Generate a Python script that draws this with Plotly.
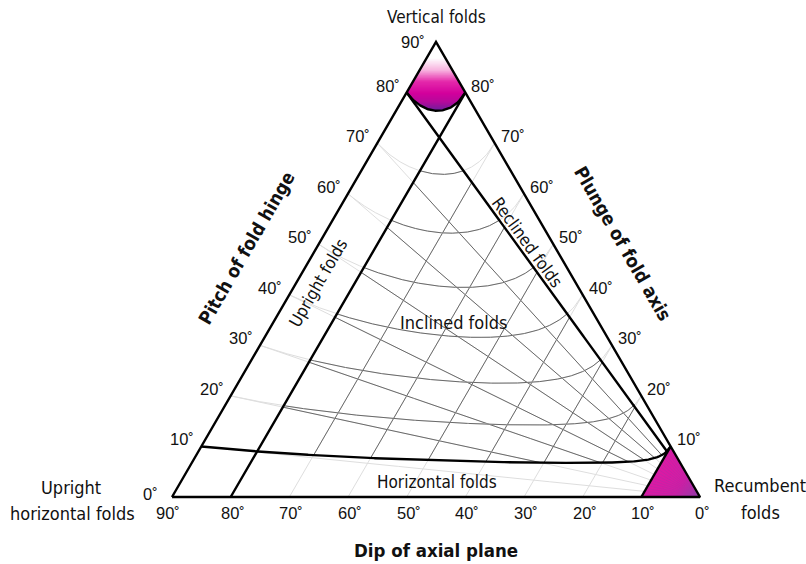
import numpy as np
import plotly.graph_objects as go

# ---- data -------------------------------------------------------------
dip_ticks = [90, 80, 70, 60, 50, 40, 30, 20, 10, 0]          # bottom edge
pitch_ticks = [0, 10, 20, 30, 40, 50, 60, 70, 80, 90]        # left edge
plunge_ticks = [10, 20, 30, 40, 50, 60, 70, 80]               # right edge
grid_dips = [20, 30, 40, 50, 60, 70]
grid_pitches = [10, 20, 30, 40, 50, 60, 70]
grid_plunges = [20, 30, 40, 50, 60, 70]
upright_dip = 80       # boundary: upright folds
reclined_pitch = 80    # boundary: reclined folds
horizontal_plunge = 10 # boundary: horizontal folds
vertical_plunge = 80   # boundary: vertical folds
recumbent_dip = 10     # boundary: recumbent folds
deg = "˚"

# ---- triangle geometry (page pixels) -----------------------------------
BL = np.array([172.0, 497.0])
BR = np.array([700.0, 497.0])
AP = np.array([436.0, 42.0])


def pos(D, R):
    """Position of a fold with axial-plane dip D and hinge pitch R."""
    D = np.asarray(D, float)[..., None]
    R = np.asarray(R, float)[..., None]
    LR = BL + (R / 90.0) * (AP - BL)
    p = BR + (D / 90.0) * (LR - BR)
    return p[..., 0], p[..., 1]


def plunge(D, R):
    return np.degrees(np.arcsin(np.sin(np.radians(D)) * np.sin(np.radians(R))))


def pitch_for(P, D):
    v = np.sin(np.radians(P)) / np.sin(np.radians(D))
    return np.degrees(np.arcsin(np.clip(v, -1, 1)))


def inclined(D, R):
    P = plunge(D, R)
    return (D < upright_dip) & (D > recumbent_dip) & (R < reclined_pitch) & \
           (P > horizontal_plunge) & (P < vertical_plunge)


LIGHT = "#dedede"
DARK = "#6a6a6a"
fig = go.Figure()


def add_line(x, y, color, width):
    fig.add_trace(go.Scatter(x=x, y=y, mode="lines", hoverinfo="skip",
                             line=dict(color=color, width=width),
                             showlegend=False))


def add_grid(D, R):
    x, y = pos(D, R)
    add_line(x, y, LIGHT, 1)
    m = inclined(D, R)
    # widen the mask by one sample so dark segments meet the boundaries
    m2 = m | np.roll(m, 1) | np.roll(m, -1)
    add_line(np.where(m2, x, np.nan), np.where(m2, y, np.nan), DARK, 1)


N = 600
for d in grid_dips:
    R = np.linspace(0, 90, N)
    add_grid(np.full(N, d), R)
for r in grid_pitches:
    D = np.linspace(0, 90, N)
    add_grid(D, np.full(N, r))
for p in grid_plunges:
    D = np.linspace(p, 90, N)
    add_grid(D, pitch_for(p, D))


# ---- polygon helpers for gradient fills --------------------------------
def clip_half(poly, f):
    """Keep the part of a polygon where f(point) >= 0."""
    out = []
    n = len(poly)
    for i in range(n):
        a, b = poly[i], poly[(i + 1) % n]
        fa, fb = f(a), f(b)
        if fa >= 0:
            out.append(a)
        if (fa >= 0) != (fb >= 0):
            t = fa / (fa - fb)
            out.append(a + t * (b - a))
    return out


def clip_strip(poly, y0, y1):
    poly = clip_half(poly, lambda p: p[1] - y0)
    if not poly:
        return poly
    return clip_half(poly, lambda p: y1 - p[1])


def mix(stops, t):
    ts = [s[0] for s in stops]
    cols = np.array([[int(s[1][i:i + 2], 16) for i in (1, 3, 5)] for s in stops], float)
    c = [np.interp(t, ts, cols[:, k]) for k in range(3)]
    return "rgb(%d,%d,%d)" % tuple(int(round(v)) for v in c)


# vertical folds region (plunge > 80)
arcD = np.linspace(vertical_plunge, 90, 80)
ax_, ay_ = pos(arcD, pitch_for(vertical_plunge, arcD))
rx, ry = pos(np.linspace(90, vertical_plunge, 20), np.full(20, 90.0))
lx, ly = pos(np.full(20, 90.0), np.linspace(vertical_plunge, 90, 20))
top_poly = [np.array(p) for p in zip(np.r_[rx, ax_, lx], np.r_[ry, ay_, ly])]
ytop, ybot = AP[1], ay_.max()
top_stops = [(0.0, "#ffffff"), (0.24, "#ffffff"), (0.42, "#f7b0de"),
             (0.58, "#e42aab"), (0.75, "#d3009c"), (0.88, "#b40a9b"), (1.0, "#6a1f9c")]
nb = 60
edges = np.linspace(ytop, ybot + 1, nb + 1)
for i in range(nb):
    pg = clip_strip(top_poly, edges[i] - 0.4, edges[i + 1] + 0.4)
    if len(pg) < 3:
        continue
    px = [p[0] for p in pg] + [pg[0][0]]
    py = [p[1] for p in pg] + [pg[0][1]]
    col = mix(top_stops, ((edges[i] + edges[i + 1]) / 2 - ytop) / (ybot - ytop))
    fig.add_trace(go.Scatter(x=px, y=py, mode="lines", fill="toself",
                             fillcolor=col, line=dict(width=0, color=col),
                             hoverinfo="skip", showlegend=False))

# recumbent folds region (dip < 10): shaded toward the 0° corner
v1 = np.array(pos(recumbent_dip, 0.0)).ravel()
v2 = np.array(pos(recumbent_dip, 90.0)).ravel()
rec_stops = [(0.0, "#8a3aa6"), (0.2, "#b52aa6"), (0.45, "#d41ba4"), (1.0, "#dc1aa4")]
for f in np.linspace(1.0, 0.04, 30):
    a = BR + f * (v1 - BR)
    b = BR + f * (v2 - BR)
    col = mix(rec_stops, f)
    fig.add_trace(go.Scatter(x=[a[0], b[0], BR[0], a[0]], y=[a[1], b[1], BR[1], a[1]],
                             mode="lines", fill="toself", fillcolor=col,
                             line=dict(width=0, color=col), hoverinfo="skip",
                             showlegend=False))
for r in np.arange(5, 90, 5):
    x, y = pos(np.array([0.0, recumbent_dip]), np.array([r, r]))
    add_line(x, y, "rgba(150,60,170,0.3)", 1)

# ---- class boundaries and frame ----------------------------------------
K = "#000000"
W = 2.4
D = np.linspace(horizontal_plunge, 90, N)
x, y = pos(D, pitch_for(horizontal_plunge, D))
add_line(x, y, K, W)
x, y = pos(np.full(N, upright_dip), np.linspace(0, 90, N))
add_line(x, y, K, W)
x, y = pos(np.linspace(recumbent_dip, 90, N), np.full(N, reclined_pitch))
add_line(x, y, K, W)
add_line(ax_, ay_, K, W)
x, y = pos(np.full(2, recumbent_dip), np.array([0.0, 90.0]))
add_line(x, y, K, W)
add_line([BL[0], BR[0], AP[0], BL[0]], [BL[1], BR[1], AP[1], BL[1]], K, W)

# ---- text ---------------------------------------------------------------
TICK_FAM = "Liberation Sans, Arial, sans-serif"
NARROW = "DejaVu Sans Condensed, Liberation Sans Narrow, Roboto Condensed, sans-serif"
ann = []


def text(x, y, s, size=16, bold=False, angle=0, fam=NARROW):
    ann.append(dict(x=x, y=y, xref="x", yref="y", text=("<b>%s</b>" % s) if bold else s,
                    showarrow=False, textangle=angle, xanchor="center", yanchor="middle",
                    font=dict(family=fam, size=size, color="#111")))


for d in dip_ticks:
    x, y = pos(d, 0.0)
    text(float(x) + (-4 if d == 90 else 2), 513, f"{d}{deg}", size=16.5, fam=TICK_FAM)
for r in pitch_ticks:
    x, y = pos(90.0, r)
    dx, dy = (-22, -3) if r == 0 else ((-23, 0) if r == 90 else (-19, -7))
    text(float(x) + dx, float(y) + dy, f"{r}{deg}", size=16.5, fam=TICK_FAM)
for p in plunge_ticks:
    x, y = pos(p, 90.0)
    text(float(x) + 18, float(y) - 7, f"{p}{deg}", size=16.5, fam=TICK_FAM)

text(436, 17, "Vertical folds", size=17)
text(453, 322, "Inclined folds", size=18)
text(437, 482, "Horizontal folds", size=17)
text(318, 283, "Upright folds", size=17, angle=-60)
text(527, 242, "Reclined folds", size=17, angle=54)
text(71, 487, "Upright", size=18)
text(72, 513, "horizontal folds", size=18)
text(760, 485, "Recumbent", size=18)
text(760, 512, "folds", size=18)
text(436, 550, "Dip of axial plane", size=18.5, bold=True)
text(246, 248, "Pitch of fold hinge", size=18.5, bold=True, angle=-60)
text(623, 243, "Plunge of fold axis", size=18.5, bold=True, angle=60)

fig.update_layout(
    width=806, height=564, margin=dict(l=0, r=0, t=0, b=0),
    paper_bgcolor="white", plot_bgcolor="white", annotations=ann,
    xaxis=dict(range=[0, 806], visible=False, fixedrange=True),
    yaxis=dict(range=[564, 0], visible=False, fixedrange=True),
)
fig.write_html("out.html")
